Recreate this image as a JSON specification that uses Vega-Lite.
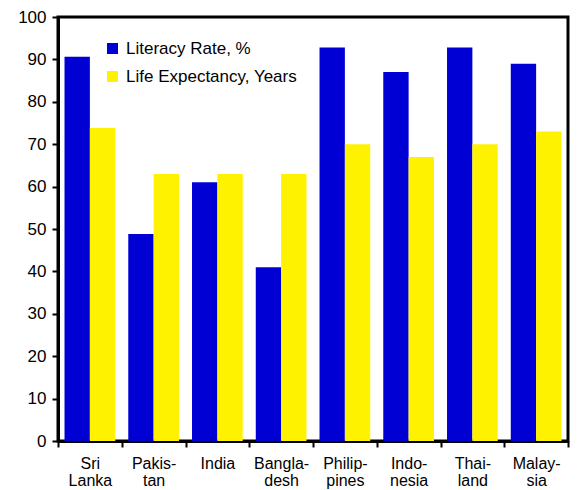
{
  "$schema": "https://vega.github.io/schema/vega-lite/v6.json",
  "width": 510,
  "height": 424,
  "padding": {"left": 58, "top": 17, "right": 9, "bottom": 49},
  "autosize": {"type": "none"},
  "background": "white",
  "config": {
    "font": "Liberation Sans",
    "view": {"stroke": "#000", "strokeWidth": 3}
  },
  "data": {
    "values": [
      {"country": "Sri|Lanka", "series": "Literacy Rate, %", "value": 90.6},
      {"country": "Sri|Lanka", "series": "Life Expectancy, Years", "value": 73.8},
      {"country": "Pakis-|tan", "series": "Literacy Rate, %", "value": 48.8},
      {"country": "Pakis-|tan", "series": "Life Expectancy, Years", "value": 63},
      {"country": "India", "series": "Literacy Rate, %", "value": 61},
      {"country": "India", "series": "Life Expectancy, Years", "value": 63},
      {"country": "Bangla-|desh", "series": "Literacy Rate, %", "value": 41},
      {"country": "Bangla-|desh", "series": "Life Expectancy, Years", "value": 63},
      {"country": "Philip-|pines", "series": "Literacy Rate, %", "value": 92.8},
      {"country": "Philip-|pines", "series": "Life Expectancy, Years", "value": 70},
      {"country": "Indo-|nesia", "series": "Literacy Rate, %", "value": 87},
      {"country": "Indo-|nesia", "series": "Life Expectancy, Years", "value": 67},
      {"country": "Thai-|land", "series": "Literacy Rate, %", "value": 92.8},
      {"country": "Thai-|land", "series": "Life Expectancy, Years", "value": 70},
      {"country": "Malay-|sia", "series": "Literacy Rate, %", "value": 89},
      {"country": "Malay-|sia", "series": "Life Expectancy, Years", "value": 73}
    ]
  },
  "mark": {"type": "bar"},
  "encoding": {
    "x": {
      "field": "country",
      "type": "nominal",
      "sort": null,
      "title": null,
      "scale": {"paddingInner": 0, "paddingOuter": 0},
      "axis": {
        "labelExpr": "split(datum.label, '|')",
        "labelAngle": 0,
        "labelFontSize": 16,
        "labelColor": "#000",
        "labelLineHeight": 17,
        "labelPadding": 16,
        "labelBaseline": "middle",
        "tickBand": "extent",
        "tickColor": "#000",
        "tickSize": 6,
        "tickWidth": 2,
        "domainColor": "#000",
        "domainWidth": 3,
        "grid": false
      }
    },
    "xOffset": {
      "field": "series",
      "type": "nominal",
      "sort": ["Literacy Rate, %", "Life Expectancy, Years"],
      "scale": {"paddingInner": 0, "paddingOuter": 0.257}
    },
    "y": {
      "field": "value",
      "type": "quantitative",
      "title": null,
      "scale": {"domain": [0, 100], "nice": false},
      "axis": {
        "values": [0, 10, 20, 30, 40, 50, 60, 70, 80, 90, 100],
        "labelFontSize": 17,
        "labelColor": "#000",
        "labelPadding": 6,
        "tickColor": "#000",
        "tickSize": 6,
        "tickWidth": 2,
        "domainColor": "#000",
        "domainWidth": 3,
        "grid": false
      }
    },
    "color": {
      "field": "series",
      "type": "nominal",
      "sort": ["Literacy Rate, %", "Life Expectancy, Years"],
      "scale": {"domain": ["Literacy Rate, %", "Life Expectancy, Years"], "range": ["#0000d4", "#fff200"]},
      "legend": {
        "title": null,
        "orient": "none",
        "legendX": 46,
        "legendY": 23,
        "symbolType": "square",
        "symbolSize": 121,
        "symbolStrokeWidth": 0,
        "symbolOpacity": 1,
        "labelFontSize": 17,
        "labelColor": "#000",
        "labelOffset": 5,
        "labelLimit": 400,
        "rowPadding": 10
      }
    }
  }
}
